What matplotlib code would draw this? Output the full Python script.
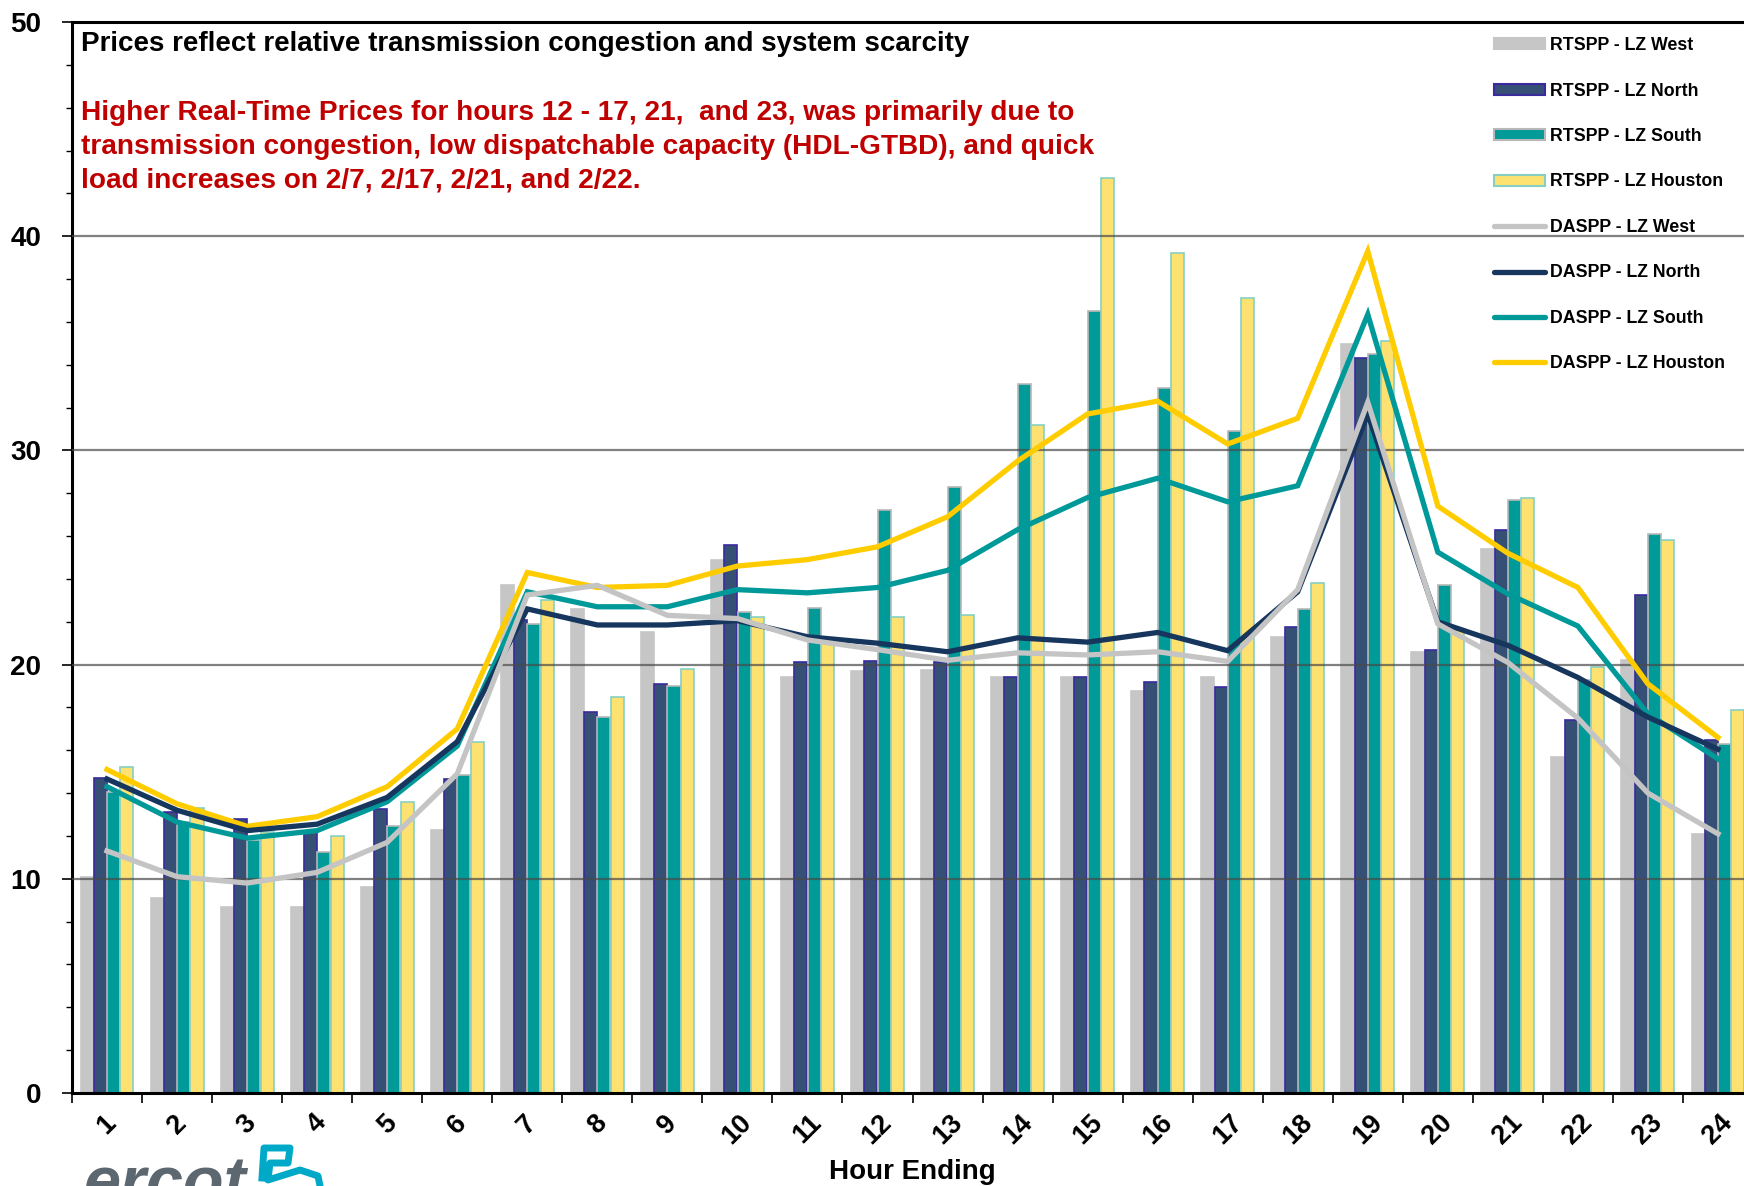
import matplotlib
matplotlib.use("Agg")
import matplotlib.pyplot as plt
import numpy as np
from matplotlib.patches import Patch
from matplotlib.lines import Line2D

plt.rcParams['font.family'] = ['Liberation Sans', 'DejaVu Sans']

hours = [str(h) for h in range(1, 25)]

rt_west = [10.1, 9.1, 8.7, 8.7, 9.6, 12.3, 23.7, 22.6, 21.5, 24.9, 19.4, 19.7,
           19.75, 19.4, 19.4, 18.75, 19.4, 21.3, 34.97, 20.6, 25.4, 15.7, 20.2, 12.1]
rt_north = [14.7, 13.1, 12.8, 12.2, 13.25, 14.65, 22.1, 17.8, 19.1, 25.6, 20.1, 20.15,
            20.1, 19.4, 19.4, 19.2, 18.95, 21.75, 34.3, 20.7, 26.3, 17.4, 23.25, 16.5]
rt_south = [14.05, 12.65, 11.8, 11.25, 12.45, 14.85, 21.9, 17.55, 19.0, 22.45, 22.65, 27.2,
            28.3, 33.1, 36.5, 32.9, 30.9, 22.6, 34.5, 23.7, 27.7, 19.3, 26.1, 16.3]
rt_houston = [15.2, 13.3, 12.2, 12.0, 13.6, 16.4, 23.0, 18.5, 19.8, 22.2, 21.0, 22.2,
              22.3, 31.2, 42.7, 39.2, 37.1, 23.8, 35.1, 21.6, 27.8, 19.9, 25.8, 17.9]

da_west = [11.3, 10.1, 9.8, 10.3, 11.7, 14.9, 23.25, 23.7, 22.3, 22.15, 21.15, 20.7,
           20.2, 20.55, 20.45, 20.6, 20.15, 23.5, 32.25, 21.9, 20.1, 17.5, 14.0, 12.1]
da_north = [14.66, 13.2, 12.25, 12.55, 13.8, 16.4, 22.6, 21.85, 21.85, 22.05, 21.3, 21.0,
            20.6, 21.25, 21.05, 21.5, 20.65, 23.4, 31.7, 22.0, 20.9, 19.4, 17.55, 16.05]
da_south = [14.3, 12.65, 11.9, 12.25, 13.6, 16.2, 23.4, 22.7, 22.7, 23.5, 23.35, 23.6,
            24.4, 26.3, 27.8, 28.7, 27.6, 28.35, 36.35, 25.25, 23.3, 21.8, 17.7, 15.6]
da_houston = [15.1, 13.5, 12.45, 12.9, 14.3, 17.0, 24.3, 23.6, 23.7, 24.6, 24.9, 25.5,
              26.9, 29.5, 31.7, 32.3, 30.3, 31.5, 39.3, 27.4, 25.2, 23.6, 19.1, 16.6]

bar_series = [
    ("RTSPP - LZ West", rt_west, "#c6c6c6", "#c6c6c6"),
    ("RTSPP - LZ North", rt_north, "#354f75", "#3a2a9e"),
    ("RTSPP - LZ South", rt_south, "#009b99", "#b8b8b8"),
    ("RTSPP - LZ Houston", rt_houston, "#fde272", "#86cfc2"),
]
line_series = [
    ("DASPP - LZ West", da_west, "#c4c4c4"),
    ("DASPP - LZ North", da_north, "#17365d"),
    ("DASPP - LZ South", da_south, "#009999"),
    ("DASPP - LZ Houston", da_houston, "#ffcc00"),
]

W, H = 1744, 1186
fig = plt.figure(figsize=(W / 100, H / 100), dpi=100)
ax = fig.add_axes([72 / W, (H - 1093) / H, (1753 - 72) / W, (1093 - 22) / H])

x = np.arange(1, 25)
bw = 0.186
offsets = [-1.5, -0.5, 0.5, 1.5]
for (lab, vals, fc, ec), off in zip(bar_series, offsets):
    ax.bar(x + off * bw * 1.02, vals, width=bw, color=fc, edgecolor=ec,
           linewidth=1.2, zorder=2)

for yv in [10, 20, 30, 40]:
    ax.axhline(yv, color="#4a4a4a", alpha=0.7, linewidth=1.6, zorder=3)

for lab, vals, col in reversed(line_series):
    ax.plot(x, vals, color=col, linewidth=3.8, zorder=4, solid_joinstyle='miter')

ax.set_xlim(0.5, 24.5)
ax.set_ylim(0, 50)
ax.set_yticks([0, 10, 20, 30, 40, 50])
ax.set_yticks(np.arange(0, 50, 2), minor=True)
ax.tick_params(axis='y', which='major', length=7, width=1.2, labelsize=20, pad=15)
ax.tick_params(axis='y', which='minor', length=4, width=1.0)
for t in ax.get_yticklabels():
    t.set_fontweight('bold')

ax.set_xticks(np.arange(0.5, 25, 1))
ax.set_xticklabels([])
ax.set_xticks(x, minor=True)
ax.set_xticklabels(hours, minor=True, rotation=45, fontsize=19.5, fontweight='bold',
                   ha='center', va='top')
ax.tick_params(axis='x', which='major', length=7, width=1.2)
ax.tick_params(axis='x', which='minor', length=0, pad=12)

for s in ['left', 'bottom', 'top']:
    ax.spines[s].set_linewidth(2.2)
    ax.spines[s].set_color('black')
ax.spines['right'].set_visible(False)

ax.set_xlabel("Hour Ending", fontsize=20, fontweight='bold', labelpad=7)

# Texts
fig.text(81 / W, 1 - 51 / H, "Prices reflect relative transmission congestion and system scarcity",
         fontsize=20, fontweight='bold', color='black', va='baseline', ha='left')
red_lines = ["Higher Real-Time Prices for hours 12 - 17, 21,  and 23, was primarily due to",
             "transmission congestion, low dispatchable capacity (HDL-GTBD), and quick",
             "load increases on 2/7, 2/17, 2/21, and 2/22."]
for i, ln in enumerate(red_lines):
    fig.text(81 / W, 1 - (120 + i * 33.5) / H, ln, fontsize=20.2, fontweight='bold',
             color='#c00000', va='baseline', ha='left')

# Legend
handles = []
for lab, vals, fc, ec in bar_series:
    handles.append(Patch(facecolor=fc, edgecolor=ec, linewidth=1.5, label=lab))
for lab, vals, col in line_series:
    handles.append(Line2D([0], [0], color=col, linewidth=3.8, solid_capstyle='round', label=lab))
leg = fig.legend(handles=handles, loc='upper left', bbox_to_anchor=(1487 / W, 1 - 30 / H),
                 frameon=False, prop={'weight': 'bold', 'size': 12.8},
                 labelspacing=1.6, handlelength=2.85, handleheight=0.55, handletextpad=0.3,
                 borderaxespad=0)

# ERCOT logo (text + mark)
fig.text(84 / W, 1 - 1203 / H, "ercot", fontsize=48, fontweight='bold', style='italic',
         color='#5d6770', va='baseline', ha='left')
lx = np.array([262, 264, 290, 288, 270, 268, 300, 318, 320])
ly = np.array([1178, 1148, 1148, 1163, 1163, 1180, 1170, 1176, 1186])
fig.add_artist(Line2D(lx / W, 1 - ly / H, color='#00a9c8', linewidth=5,
                      transform=fig.transFigure, solid_joinstyle='round'))

fig.savefig("out.png", dpi=100)
